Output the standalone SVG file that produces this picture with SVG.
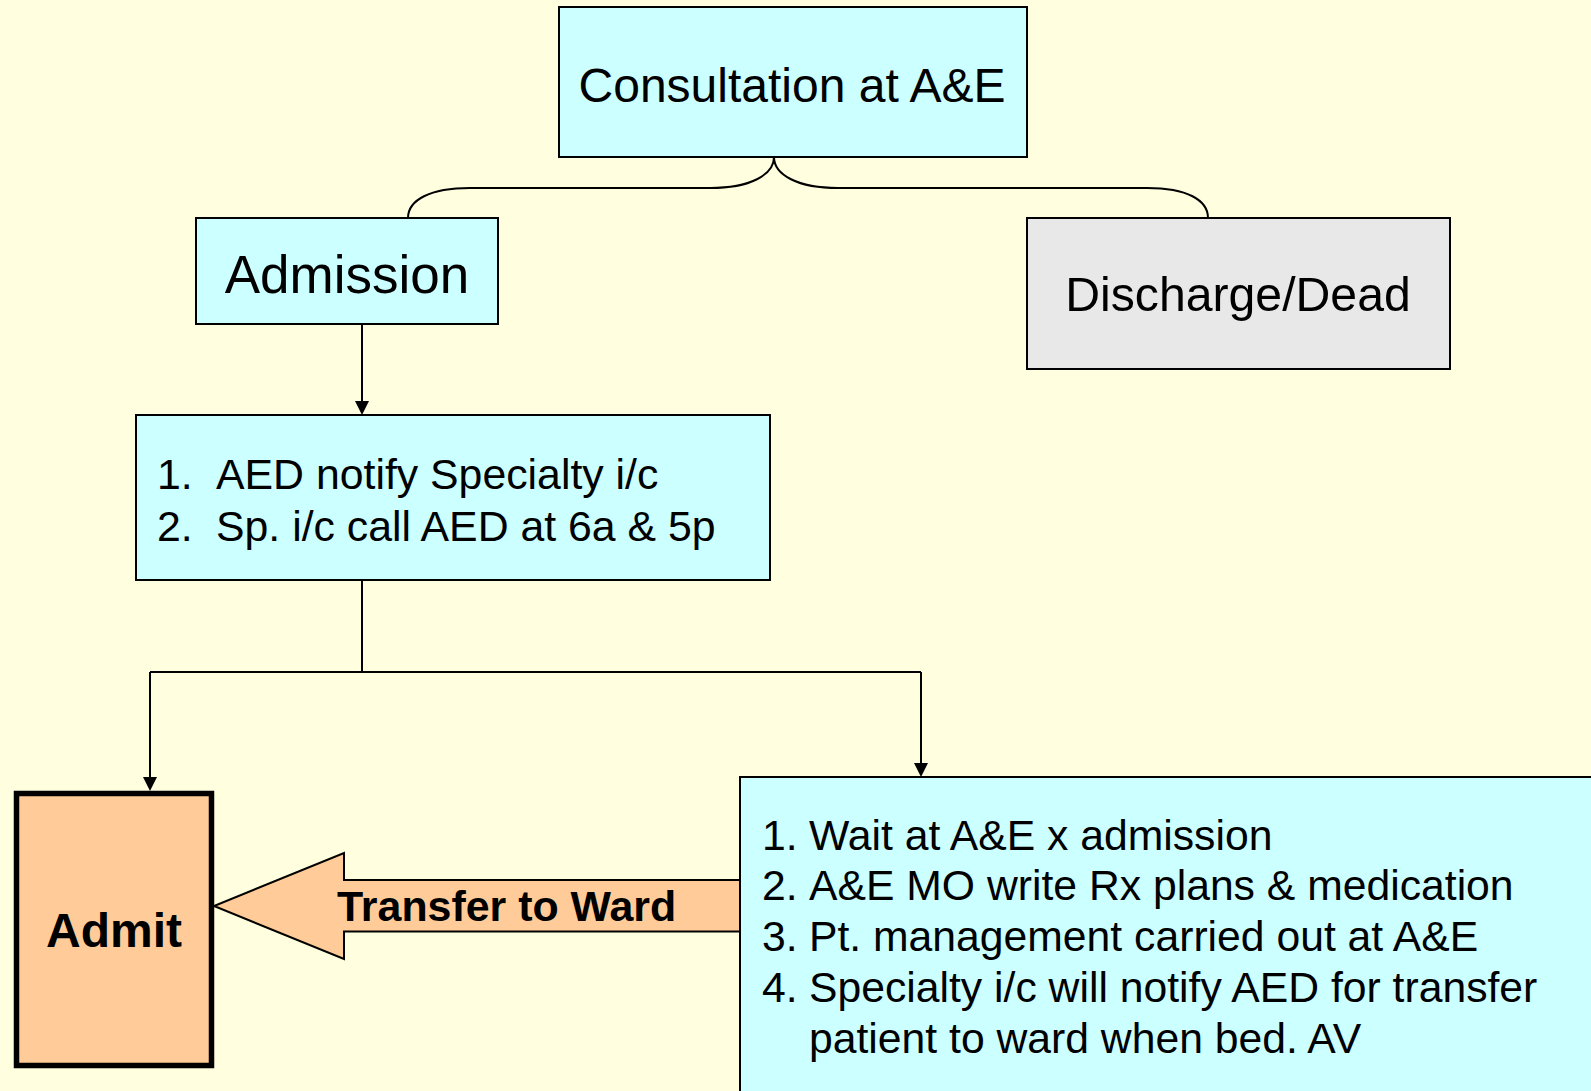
<svg xmlns="http://www.w3.org/2000/svg" width="1591" height="1091" viewBox="0 0 1591 1091">
<defs>
<style>
.box{stroke:#000;stroke-width:2}
.cyan{fill:#CCFFFF}
.t{font-family:"Liberation Sans",Arial,sans-serif;fill:#000}
.conn{fill:none;stroke:#000;stroke-width:2}
.head{fill:#000}
</style>
</defs>
<rect x="0" y="0" width="1591" height="1091" fill="#FFFFE0"/>
<g id="connectors">
<path class="conn" d="M408,218 C408,200 430,188 470,188 L710,188 C750,188 774,175 774,157 C774,175 798,188 838,188 L1147,188 C1187,188 1208,200 1208,218"/>
<path class="conn" d="M362,324 V401"/>
<path class="head" d="M355,401 L369,401 L362,415 Z"/>
<path class="conn" d="M362,580 V672 M150,672 H921"/>
<path class="conn" d="M150,672 V777"/>
<path class="head" d="M143,777 L157,777 L150,791 Z"/>
<path class="conn" d="M921,672 V763"/>
<path class="head" d="M914,763 L928,763 L921,777 Z"/>
</g>
<g id="consultation">
<rect class="box cyan" x="559" y="7" width="468" height="150"/>
<text class="t" x="792" y="102" font-size="48" text-anchor="middle">Consultation at A&amp;E</text>
</g>
<g id="admission">
<rect class="box cyan" x="196" y="218" width="302" height="106"/>
<text class="t" x="347" y="293" font-size="53" text-anchor="middle">Admission</text>
</g>
<g id="discharge">
<rect class="box" fill="#E8E8E8" x="1027" y="218" width="423" height="151"/>
<text class="t" x="1238" y="311" font-size="48.2" text-anchor="middle">Discharge/Dead</text>
</g>
<g id="notify">
<rect class="box cyan" x="136" y="415" width="634" height="165"/>
<text class="t" font-size="42.8"><tspan x="157" y="489">1.</tspan><tspan x="216" y="489">AED notify Specialty i/c</tspan><tspan x="157" y="541">2.</tspan><tspan x="216" y="541">Sp. i/c call AED at 6a &amp; 5p</tspan></text>
</g>
<g id="admit">
<rect x="16.5" y="793.5" width="195" height="272" fill="#FFCC99" stroke="#000" stroke-width="5.5"/>
<text class="t" x="114" y="947" font-size="48" font-weight="bold" text-anchor="middle">Admit</text>
</g>
<g id="transfer">
<path d="M740,880 L344,880 L344,853 L214,906 L344,959 L344,931.5 L740,931.5" fill="#FFCC99" stroke="#000" stroke-width="2"/>
<text class="t" x="337" y="921" font-size="42.9" font-weight="bold">Transfer to Ward</text>
</g>
<g id="wait">
<rect class="box cyan" x="740" y="777" width="860" height="330"/>
<text class="t" font-size="42.7">
<tspan x="762" y="850">1.</tspan><tspan x="809" y="850">Wait at A&amp;E x admission</tspan>
<tspan x="762" y="900">2.</tspan><tspan x="809" y="900">A&amp;E MO write Rx plans &amp; medication</tspan>
<tspan x="762" y="951">3.</tspan><tspan x="809" y="951">Pt. management carried out at A&amp;E</tspan>
<tspan x="762" y="1002">4.</tspan><tspan x="809" y="1002">Specialty i/c will notify AED for transfer</tspan>
<tspan x="809" y="1053">patient to ward when bed. AV</tspan>
</text>
</g>
</svg>
